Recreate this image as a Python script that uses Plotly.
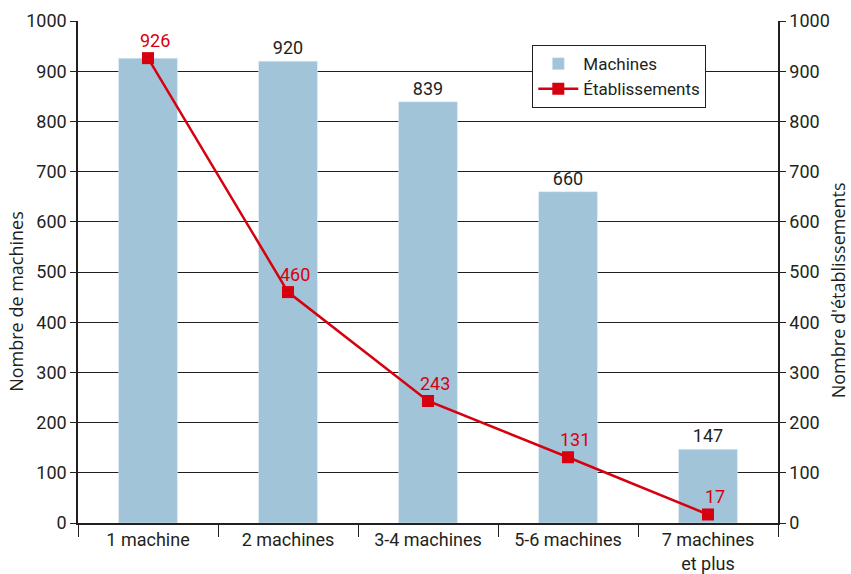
"""Machines et établissements par taille de parc."""

import plotly.graph_objects as go

CATEGORIES = ["1 machine", "2 machines", "3-4 machines", "5-6 machines", "7 machines<br>et plus"]
MACHINES = [926, 920, 839, 660, 147]
ETABLISSEMENTS = [926, 460, 243, 131, 17]

BAR_COLOR = "#a1c4d8"
RED = "#d7000f"
INK = "#231f20"
FONT = "Roboto"
SIZE = 18

# the first bar label would sit under the red line label, so it is left out
bar_text = ["" if m == e else str(m) for m, e in zip(MACHINES, ETABLISSEMENTS)]

fig = go.Figure()
fig.add_trace(
    go.Bar(
        name="Machines",
        x=CATEGORIES,
        y=MACHINES,
        text=bar_text,
        textposition="outside",
        textfont=dict(color=INK, size=SIZE, family=FONT),
        cliponaxis=False,
        marker_color=BAR_COLOR,
        width=0.42,
    )
)
fig.add_trace(
    go.Scatter(
        name="Établissements",
        x=CATEGORIES,
        y=ETABLISSEMENTS,
        yaxis="y2",
        mode="lines+markers",
        line=dict(color=RED, width=2.5),
        marker=dict(symbol="square", size=12, color=RED),
    )
)
for cat, val in zip(CATEGORIES, ETABLISSEMENTS):
    fig.add_annotation(
        x=cat,
        y=val,
        yref="y2",
        text=str(val),
        showarrow=False,
        yanchor="bottom",
        yshift=5,
        xshift=7,
        font=dict(color=RED, size=SIZE, family=FONT),
    )

# axis titles, placed as in the original rather than centred on the plot
title_font = dict(size=18, color=INK, family="Open Sans")
fig.add_annotation(
    text="Nombre de machines", textangle=-90, showarrow=False,
    xref="paper", yref="paper", x=-0.089, y=0.442,
    xanchor="center", yanchor="middle", font=title_font,
)
fig.add_annotation(
    text="Nombre d'établissements", textangle=-90, showarrow=False,
    xref="paper", yref="paper", x=1.086, y=0.464,
    xanchor="center", yanchor="middle", font=title_font,
)

axis_common = dict(
    range=[0, 1000],
    dtick=100,
    ticks="outside",
    ticklen=6,
    tickcolor=INK,
    showline=True,
    linecolor=INK,
    linewidth=1.5,
    tickfont=dict(size=SIZE, color=INK, family=FONT),
    automargin=False,
    zeroline=False,
    fixedrange=True,
)

fig.update_layout(
    width=851,
    height=574,
    plot_bgcolor="white",
    paper_bgcolor="white",
    margin=dict(l=78, r=73, t=21, b=51),
    showlegend=True,
    font=dict(family=FONT, color=INK, size=SIZE),
    xaxis=dict(
        showline=True,
        linecolor=INK,
        linewidth=1.5,
        ticks="outside",
        tickson="boundaries",
        ticklen=12,
        tickcolor=INK,
        tickfont=dict(size=SIZE, color=INK, family=FONT),
        showgrid=False,
        automargin=False,
        fixedrange=True,
    ),
    yaxis=dict(**axis_common, showgrid=True, gridcolor=INK, gridwidth=1),
    yaxis2=dict(**axis_common, overlaying="y", side="right", showgrid=False),
    legend=dict(
        x=0.649,
        y=0.952,
        xanchor="left",
        yanchor="top",
        bgcolor="white",
        bordercolor=INK,
        borderwidth=1,
        font=dict(size=17, color=INK, family=FONT),
        tracegroupgap=0,
        itemwidth=40,
    ),
)

# the page body has a default 8px margin; drop it so the figure fills the window
fig.write_html(
    "out.html",
    config={"displayModeBar": False},
    post_script="document.body.style.margin = '0';",
)
